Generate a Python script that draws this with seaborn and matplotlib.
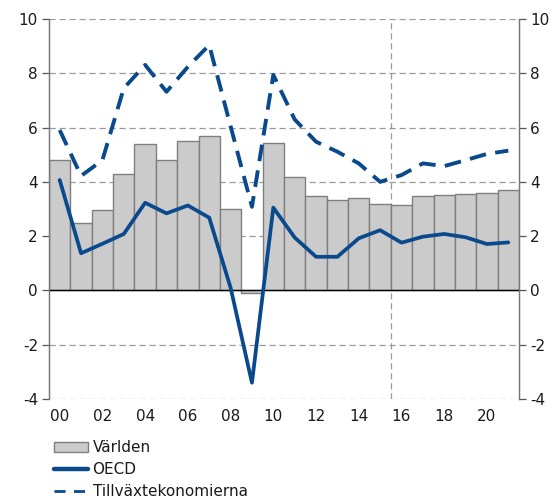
import numpy as np
import pandas as pd
import matplotlib
matplotlib.use('Agg')
import matplotlib.pyplot as plt
import seaborn as sns
from matplotlib.ticker import FixedLocator
from matplotlib.patches import Patch
from matplotlib.lines import Line2D

years = list(range(2000, 2022))
varlden = [4.80, 2.48, 2.97, 4.29, 5.39, 4.82, 5.49, 5.68, 3.01, -0.08, 5.44,
           4.18, 3.48, 3.33, 3.42, 3.20, 3.15, 3.47, 3.52, 3.55, 3.60, 3.69]
oecd = [4.07, 1.37, 1.72, 2.08, 3.23, 2.84, 3.13, 2.68, 0.10, -3.40, 3.05,
        1.95, 1.24, 1.24, 1.92, 2.22, 1.76, 1.98, 2.08, 1.96, 1.71, 1.77]
tillvaxt = [5.91, 4.22, 4.80, 7.45, 8.31, 7.32, 8.24, 9.04, 6.05, 3.08, 7.94,
            6.30, 5.48, 5.11, 4.68, 4.00, 4.25, 4.68, 4.58, 4.80, 5.03, 5.15]
year_labels = [f'{y % 100:02d}' for y in years[::2]]
y_ticks = [-4, -2, 0, 2, 4, 6, 8, 10]

df = pd.DataFrame({'year': [str(y) for y in years], 'pos': np.arange(len(years)),
                   'varlden': varlden, 'oecd': oecd, 'tillvaxt': tillvaxt})

sns.set_style('white')
plt.rcParams['font.family'] = ['DejaVu Sans']
plt.rcParams['axes.unicode_minus'] = False

BLUE = '#0a4a8c'
GRID = '#9a9a9a'
TXT = '#1a1a1a'

fig = plt.figure(figsize=(5.55, 4.98), dpi=100)
ax = fig.add_axes([0.0883, 0.1988, 0.8468, 0.763])

sns.barplot(data=df, x='year', y='varlden', color='#cbcbcb', edgecolor='#7f7f7f',
            linewidth=1.0, width=1.0, saturation=1, ax=ax, zorder=2)
sns.lineplot(data=df, x='pos', y='tillvaxt', color=BLUE, linewidth=2.8,
             ax=ax, zorder=4)
ax.lines[-1].set_dashes([4.3, 2.4])
sns.lineplot(data=df, x='pos', y='oecd', color=BLUE, linewidth=2.7,
             ax=ax, zorder=5)

ax.set_xlim(-0.5, len(years) - 0.5)
ax.set_ylim(-4, 10)
for v in y_ticks:
    if v != 0:
        ax.axhline(v, color=GRID, linewidth=0.9, dashes=(5, 3), zorder=1)
ax.axhline(0, color='black', linewidth=1.0, zorder=3)
ax.axvline(15.5, color=GRID, linewidth=0.9, dashes=(5, 3), zorder=1)

ax.set_xticks(np.arange(0, len(years), 2))
ax.set_xticklabels(year_labels)
ax.xaxis.set_minor_locator(FixedLocator(np.arange(-0.5, len(years), 1.0)))
ax.tick_params(axis='x', which='major', length=0, pad=7, labelsize=11, labelcolor=TXT)
ax.tick_params(axis='x', which='minor', length=5, width=0.9, color='#555555', direction='out')
ax.set_yticks(y_ticks)
ax.tick_params(axis='y', length=5, width=0.9, color='#555555', direction='out',
               labelsize=11, labelcolor=TXT, pad=3)
ax.set_xlabel('')
ax.set_ylabel('')

ax2 = ax.twinx()
ax2.set_ylim(-4, 10)
ax2.set_yticks(y_ticks)
ax2.tick_params(axis='y', length=5, width=0.9, color='#555555', direction='out',
                labelsize=11, labelcolor=TXT, pad=3)

for a in (ax, ax2):
    a.spines['top'].set_visible(False)
    a.spines['bottom'].set_visible(False)
    for s in ('left', 'right'):
        a.spines[s].set_color('#777777')
        a.spines[s].set_linewidth(0.9)

handles = [Patch(facecolor='#cbcbcb', edgecolor='#7f7f7f', label='Världen'),
           Line2D([0], [0], color=BLUE, linewidth=3.2, label='OECD'),
           Line2D([0], [0], color=BLUE, linewidth=2.0, dashes=(4, 3), label='Tillväxtekonomierna')]
leg = fig.legend(handles=handles, loc='upper left', bbox_to_anchor=(0.098, 0.116),
                 frameon=False, fontsize=11, handlelength=2.2, handletextpad=0.3,
                 labelspacing=0.45, borderaxespad=0, borderpad=0)
for t in leg.get_texts():
    t.set_color(TXT)

fig.savefig('out.png', dpi=100)
